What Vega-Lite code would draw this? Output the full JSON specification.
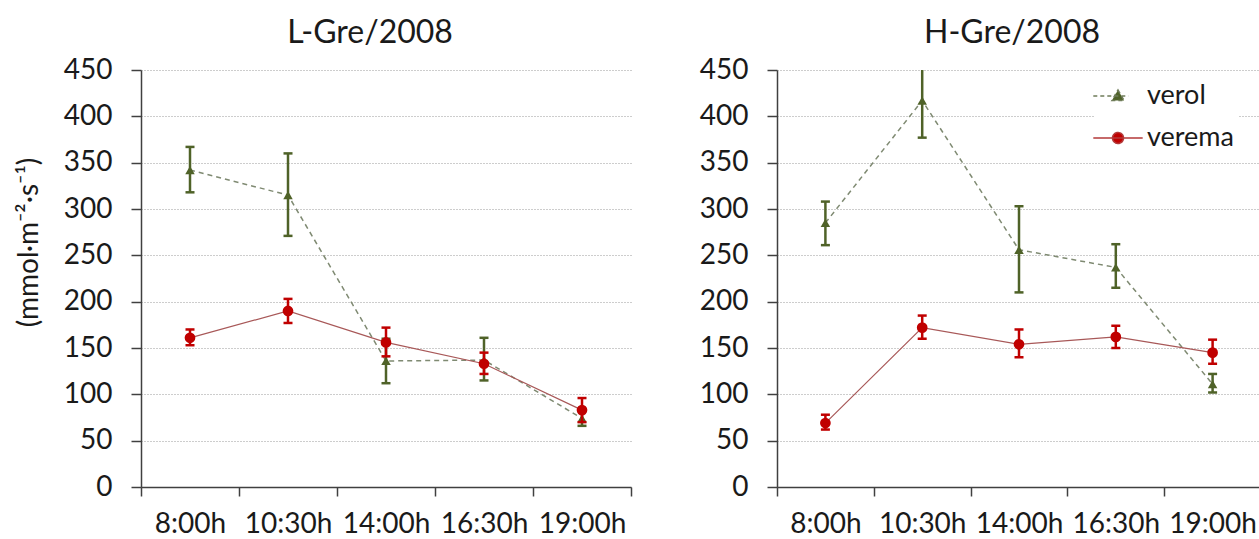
{
  "$schema": "https://vega.github.io/schema/vega-lite/v6.json",
  "padding": {"left": 15, "top": 17, "right": 0, "bottom": 0},
  "background": "white",
  "datasets": {
    "d": [
      {"p": "L", "t": "8:00h", "s": "verol", "m": 342, "lo": 318, "hi": 367},
      {"p": "L", "t": "10:30h", "s": "verol", "m": 315, "lo": 271, "hi": 360},
      {"p": "L", "t": "14:00h", "s": "verol", "m": 136, "lo": 112, "hi": 160},
      {"p": "L", "t": "16:30h", "s": "verol", "m": 137, "lo": 115, "hi": 161},
      {"p": "L", "t": "19:00h", "s": "verol", "m": 74, "lo": 66, "hi": 82},
      {"p": "L", "t": "8:00h", "s": "verema", "m": 161, "lo": 153, "hi": 170},
      {"p": "L", "t": "10:30h", "s": "verema", "m": 190, "lo": 177, "hi": 203},
      {"p": "L", "t": "14:00h", "s": "verema", "m": 156, "lo": 141, "hi": 172},
      {"p": "L", "t": "16:30h", "s": "verema", "m": 133, "lo": 122, "hi": 145},
      {"p": "L", "t": "19:00h", "s": "verema", "m": 83, "lo": 70, "hi": 96},
      {"p": "H", "t": "8:00h", "s": "verol", "m": 285, "lo": 261, "hi": 308},
      {"p": "H", "t": "10:30h", "s": "verol", "m": 417, "lo": 377, "hi": 457},
      {"p": "H", "t": "14:00h", "s": "verol", "m": 256, "lo": 210, "hi": 303},
      {"p": "H", "t": "16:30h", "s": "verol", "m": 237, "lo": 215, "hi": 262},
      {"p": "H", "t": "19:00h", "s": "verol", "m": 111, "lo": 102, "hi": 122},
      {"p": "H", "t": "8:00h", "s": "verema", "m": 69, "lo": 62, "hi": 78},
      {"p": "H", "t": "10:30h", "s": "verema", "m": 172, "lo": 160, "hi": 185},
      {"p": "H", "t": "14:00h", "s": "verema", "m": 154, "lo": 140, "hi": 170},
      {"p": "H", "t": "16:30h", "s": "verema", "m": 162, "lo": 150, "hi": 174},
      {"p": "H", "t": "19:00h", "s": "verema", "m": 145, "lo": 133, "hi": 159}
    ]
  },
  "spacing": 67,
  "resolve": {"scale": {"fill": "independent", "stroke": "independent", "shape": "independent", "strokeDash": "independent"}},
  "hconcat": [
    {
      "width": 490,
      "height": 417,
      "title": {"text": "L-Gre/2008", "dx": -16},
      "data": {"name": "d"},
      "transform": [{"filter": "datum.p === 'L'"}],
      "layer": [
        {"transform": [{"filter": "datum.s === 'verol'"}], "mark": {"type": "line", "color": "#7f8a72", "strokeWidth": 1.5, "strokeDash": [5, 4]},
         "encoding": {"x": {"field": "t", "type": "ordinal", "sort": ["8:00h", "10:30h", "14:00h", "16:30h", "19:00h"], "scale": {"type": "band", "paddingInner": 0, "paddingOuter": 0}, "title": null},
                      "y": {"field": "m", "type": "quantitative", "scale": {"domain": [0, 450], "nice": false}, "title": "(mmol·m⁻²·s⁻¹)"}}},
        {"transform": [{"filter": "datum.s === 'verema'"}], "mark": {"type": "line", "color": "#a85858", "strokeWidth": 1.2},
         "encoding": {"x": {"field": "t", "type": "ordinal", "sort": ["8:00h", "10:30h", "14:00h", "16:30h", "19:00h"], "scale": {"type": "band", "paddingInner": 0, "paddingOuter": 0}, "title": null},
                      "y": {"field": "m", "type": "quantitative", "scale": {"domain": [0, 450], "nice": false}, "title": "(mmol·m⁻²·s⁻¹)"}}},
        {"transform": [{"filter": "datum.s === 'verol'"}], "mark": {"type": "rule", "color": "#4f6228", "strokeWidth": 2.5, "clip": true},
         "encoding": {"x": {"field": "t", "type": "ordinal", "sort": ["8:00h", "10:30h", "14:00h", "16:30h", "19:00h"], "scale": {"type": "band", "paddingInner": 0, "paddingOuter": 0}, "title": null},
                      "y": {"field": "lo", "type": "quantitative", "scale": {"domain": [0, 450], "nice": false}, "title": "(mmol·m⁻²·s⁻¹)"}, "y2": {"field": "hi"}}},
        {"transform": [{"filter": "datum.s === 'verol'"}], "mark": {"type": "tick", "color": "#4f6228", "size": 9, "thickness": 2.5, "opacity": 1, "clip": true},
         "encoding": {"x": {"field": "t", "type": "ordinal", "sort": ["8:00h", "10:30h", "14:00h", "16:30h", "19:00h"], "scale": {"type": "band", "paddingInner": 0, "paddingOuter": 0}, "title": null},
                      "y": {"field": "lo", "type": "quantitative", "scale": {"domain": [0, 450], "nice": false}, "title": "(mmol·m⁻²·s⁻¹)"}}},
        {"transform": [{"filter": "datum.s === 'verol'"}], "mark": {"type": "tick", "color": "#4f6228", "size": 9, "thickness": 2.5, "opacity": 1, "clip": true},
         "encoding": {"x": {"field": "t", "type": "ordinal", "sort": ["8:00h", "10:30h", "14:00h", "16:30h", "19:00h"], "scale": {"type": "band", "paddingInner": 0, "paddingOuter": 0}, "title": null},
                      "y": {"field": "hi", "type": "quantitative", "scale": {"domain": [0, 450], "nice": false}, "title": "(mmol·m⁻²·s⁻¹)"}}},
        {"transform": [{"filter": "datum.s === 'verol'"}], "mark": {"type": "point", "shape": "triangle-up", "filled": true, "size": 90, "color": "#4f6228", "opacity": 1},
         "encoding": {"x": {"field": "t", "type": "ordinal", "sort": ["8:00h", "10:30h", "14:00h", "16:30h", "19:00h"], "scale": {"type": "band", "paddingInner": 0, "paddingOuter": 0}, "title": null},
                      "y": {"field": "m", "type": "quantitative", "scale": {"domain": [0, 450], "nice": false}, "title": "(mmol·m⁻²·s⁻¹)"}}},
        {"transform": [{"filter": "datum.s === 'verema'"}], "mark": {"type": "rule", "color": "#c00000", "strokeWidth": 2.5, "clip": true},
         "encoding": {"x": {"field": "t", "type": "ordinal", "sort": ["8:00h", "10:30h", "14:00h", "16:30h", "19:00h"], "scale": {"type": "band", "paddingInner": 0, "paddingOuter": 0}, "title": null},
                      "y": {"field": "lo", "type": "quantitative", "scale": {"domain": [0, 450], "nice": false}, "title": "(mmol·m⁻²·s⁻¹)"}, "y2": {"field": "hi"}}},
        {"transform": [{"filter": "datum.s === 'verema'"}], "mark": {"type": "tick", "color": "#c00000", "size": 9, "thickness": 2.5, "opacity": 1, "clip": true},
         "encoding": {"x": {"field": "t", "type": "ordinal", "sort": ["8:00h", "10:30h", "14:00h", "16:30h", "19:00h"], "scale": {"type": "band", "paddingInner": 0, "paddingOuter": 0}, "title": null},
                      "y": {"field": "lo", "type": "quantitative", "scale": {"domain": [0, 450], "nice": false}, "title": "(mmol·m⁻²·s⁻¹)"}}},
        {"transform": [{"filter": "datum.s === 'verema'"}], "mark": {"type": "tick", "color": "#c00000", "size": 9, "thickness": 2.5, "opacity": 1, "clip": true},
         "encoding": {"x": {"field": "t", "type": "ordinal", "sort": ["8:00h", "10:30h", "14:00h", "16:30h", "19:00h"], "scale": {"type": "band", "paddingInner": 0, "paddingOuter": 0}, "title": null},
                      "y": {"field": "hi", "type": "quantitative", "scale": {"domain": [0, 450], "nice": false}, "title": "(mmol·m⁻²·s⁻¹)"}}},
        {"transform": [{"filter": "datum.s === 'verema'"}], "mark": {"type": "point", "shape": "circle", "filled": true, "size": 115, "color": "#c00000", "opacity": 1},
         "encoding": {"x": {"field": "t", "type": "ordinal", "sort": ["8:00h", "10:30h", "14:00h", "16:30h", "19:00h"], "scale": {"type": "band", "paddingInner": 0, "paddingOuter": 0}, "title": null},
                      "y": {"field": "m", "type": "quantitative", "scale": {"domain": [0, 450], "nice": false}, "title": "(mmol·m⁻²·s⁻¹)"}}}
      ]
    },
    {
      "width": 484,
      "height": 417,
      "title": {"text": "H-Gre/2008", "dx": -7},
      "data": {"name": "d"},
      "transform": [{"filter": "datum.p === 'H'"}],
      "layer": [
        {"transform": [{"filter": "datum.s === 'verol'"}], "mark": {"type": "line", "color": "#7f8a72", "strokeWidth": 1.5, "strokeDash": [5, 4]},
         "encoding": {"x": {"field": "t", "type": "ordinal", "sort": ["8:00h", "10:30h", "14:00h", "16:30h", "19:00h"], "scale": {"type": "band", "paddingInner": 0, "paddingOuter": 0}, "title": null},
                      "y": {"field": "m", "type": "quantitative", "scale": {"domain": [0, 450], "nice": false}, "title": null}}},
        {"transform": [{"filter": "datum.s === 'verema'"}], "mark": {"type": "line", "color": "#a85858", "strokeWidth": 1.2},
         "encoding": {"x": {"field": "t", "type": "ordinal", "sort": ["8:00h", "10:30h", "14:00h", "16:30h", "19:00h"], "scale": {"type": "band", "paddingInner": 0, "paddingOuter": 0}, "title": null},
                      "y": {"field": "m", "type": "quantitative", "scale": {"domain": [0, 450], "nice": false}, "title": null}}},
        {"transform": [{"filter": "datum.s === 'verol'"}], "mark": {"type": "rule", "color": "#4f6228", "strokeWidth": 2.5, "clip": true},
         "encoding": {"x": {"field": "t", "type": "ordinal", "sort": ["8:00h", "10:30h", "14:00h", "16:30h", "19:00h"], "scale": {"type": "band", "paddingInner": 0, "paddingOuter": 0}, "title": null},
                      "y": {"field": "lo", "type": "quantitative", "scale": {"domain": [0, 450], "nice": false}, "title": null}, "y2": {"field": "hi"}}},
        {"transform": [{"filter": "datum.s === 'verol'"}], "mark": {"type": "tick", "color": "#4f6228", "size": 9, "thickness": 2.5, "opacity": 1, "clip": true},
         "encoding": {"x": {"field": "t", "type": "ordinal", "sort": ["8:00h", "10:30h", "14:00h", "16:30h", "19:00h"], "scale": {"type": "band", "paddingInner": 0, "paddingOuter": 0}, "title": null},
                      "y": {"field": "lo", "type": "quantitative", "scale": {"domain": [0, 450], "nice": false}, "title": null}}},
        {"transform": [{"filter": "datum.s === 'verol'"}], "mark": {"type": "tick", "color": "#4f6228", "size": 9, "thickness": 2.5, "opacity": 1, "clip": true},
         "encoding": {"x": {"field": "t", "type": "ordinal", "sort": ["8:00h", "10:30h", "14:00h", "16:30h", "19:00h"], "scale": {"type": "band", "paddingInner": 0, "paddingOuter": 0}, "title": null},
                      "y": {"field": "hi", "type": "quantitative", "scale": {"domain": [0, 450], "nice": false}, "title": null}}},
        {"transform": [{"filter": "datum.s === 'verol'"}], "mark": {"type": "point", "shape": "triangle-up", "filled": true, "size": 90, "color": "#4f6228", "opacity": 1},
         "encoding": {"x": {"field": "t", "type": "ordinal", "sort": ["8:00h", "10:30h", "14:00h", "16:30h", "19:00h"], "scale": {"type": "band", "paddingInner": 0, "paddingOuter": 0}, "title": null},
                      "y": {"field": "m", "type": "quantitative", "scale": {"domain": [0, 450], "nice": false}, "title": null}}},
        {"transform": [{"filter": "datum.s === 'verema'"}], "mark": {"type": "rule", "color": "#c00000", "strokeWidth": 2.5, "clip": true},
         "encoding": {"x": {"field": "t", "type": "ordinal", "sort": ["8:00h", "10:30h", "14:00h", "16:30h", "19:00h"], "scale": {"type": "band", "paddingInner": 0, "paddingOuter": 0}, "title": null},
                      "y": {"field": "lo", "type": "quantitative", "scale": {"domain": [0, 450], "nice": false}, "title": null}, "y2": {"field": "hi"}}},
        {"transform": [{"filter": "datum.s === 'verema'"}], "mark": {"type": "tick", "color": "#c00000", "size": 9, "thickness": 2.5, "opacity": 1, "clip": true},
         "encoding": {"x": {"field": "t", "type": "ordinal", "sort": ["8:00h", "10:30h", "14:00h", "16:30h", "19:00h"], "scale": {"type": "band", "paddingInner": 0, "paddingOuter": 0}, "title": null},
                      "y": {"field": "lo", "type": "quantitative", "scale": {"domain": [0, 450], "nice": false}, "title": null}}},
        {"transform": [{"filter": "datum.s === 'verema'"}], "mark": {"type": "tick", "color": "#c00000", "size": 9, "thickness": 2.5, "opacity": 1, "clip": true},
         "encoding": {"x": {"field": "t", "type": "ordinal", "sort": ["8:00h", "10:30h", "14:00h", "16:30h", "19:00h"], "scale": {"type": "band", "paddingInner": 0, "paddingOuter": 0}, "title": null},
                      "y": {"field": "hi", "type": "quantitative", "scale": {"domain": [0, 450], "nice": false}, "title": null}}},
        {"transform": [{"filter": "datum.s === 'verema'"}], "mark": {"type": "point", "shape": "circle", "filled": true, "size": 115, "color": "#c00000", "opacity": 1},
         "encoding": {"x": {"field": "t", "type": "ordinal", "sort": ["8:00h", "10:30h", "14:00h", "16:30h", "19:00h"], "scale": {"type": "band", "paddingInner": 0, "paddingOuter": 0}, "title": null},
                      "y": {"field": "m", "type": "quantitative", "scale": {"domain": [0, 450], "nice": false}, "title": null}}},
        {"transform": [{"filter": "false"}], "mark": {"type": "point", "filled": true, "opacity": 1},
         "encoding": {
           "fill": {"field": "s", "type": "nominal", "scale": {"domain": ["verol", "verema"], "range": ["#4f6228", "#c00000"]},
                    "legend": {"title": null, "orient": "none", "legendX": 317, "legendY": 2, "symbolSize": 1444, "symbolStrokeWidth": 1.5, "labelFont": "Lato", "labelFontSize": 27, "labelColor": "#1a1a1a", "labelOffset": 9, "rowPadding": 9, "padding": 4, "fillColor": "white"}},
           "stroke": {"field": "s", "type": "nominal", "scale": {"domain": ["verol", "verema"], "range": ["#6f7c5a", "#b43a3a"]},
                    "legend": {"title": null, "orient": "none", "legendX": 317, "legendY": 2, "symbolSize": 1444, "symbolStrokeWidth": 1.5, "labelFont": "Lato", "labelFontSize": 27, "labelColor": "#1a1a1a", "labelOffset": 9, "rowPadding": 9, "padding": 4, "fillColor": "white"}},
           "shape": {"field": "s", "type": "nominal", "scale": {"domain": ["verol", "verema"], "range": ["M-1.3,0H0.55M0,-0.32L0.32,0.24L-0.32,0.24Z", "M-1.3,0H1.3M0.29,0A0.29,0.29,0,1,1,-0.29,0A0.29,0.29,0,1,1,0.29,0Z"]},
                    "legend": {"title": null, "orient": "none", "legendX": 317, "legendY": 2, "symbolSize": 1444, "symbolStrokeWidth": 1.5, "labelFont": "Lato", "labelFontSize": 27, "labelColor": "#1a1a1a", "labelOffset": 9, "rowPadding": 9, "padding": 4, "fillColor": "white"}},
           "strokeDash": {"field": "s", "type": "nominal", "scale": {"domain": ["verol", "verema"], "range": [[4, 3], [1, 0]]},
                    "legend": {"title": null, "orient": "none", "legendX": 317, "legendY": 2, "symbolSize": 1444, "symbolStrokeWidth": 1.5, "labelFont": "Lato", "labelFontSize": 27, "labelColor": "#1a1a1a", "labelOffset": 9, "rowPadding": 9, "padding": 4, "fillColor": "white"}}
         }}
      ]
    }
  ],
  "config": {
    "view": {"stroke": null},
    "font": "Lato",
    "title": {"font": "Lato", "fontSize": 32, "fontWeight": "normal", "color": "#1a1a1a", "offset": 6, "baseline": "alphabetic", "anchor": "middle"},
    "axis": {"labelFont": "Lato", "labelFontSize": 28, "labelColor": "#1a1a1a", "domainColor": "#404040", "domainWidth": 1.5, "tickColor": "#404040", "tickWidth": 1.5},
    "axisX": {"tickBand": "extent", "tickSize": 9, "labelPadding": 14, "labelAngle": 0, "grid": false},
    "axisY": {"tickSize": 10, "labelPadding": 19, "tickCount": 10, "grid": true, "gridColor": "#9a9a9a", "gridDash": [1, 2], "gridWidth": 1,
              "titleFont": "Lato", "titleFontSize": 28, "titleColor": "#1a1a1a", "titleFontWeight": "normal", "titleX": -112, "titleY": 172, "titleBaseline": "middle", "titleAngle": -90}
  }
}
